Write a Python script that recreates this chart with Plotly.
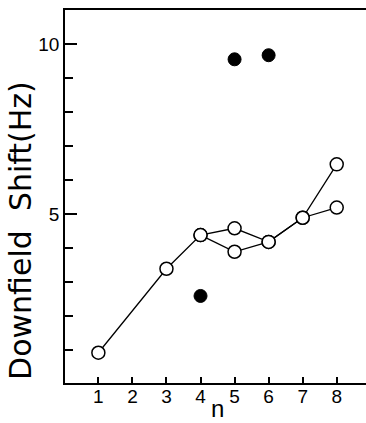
import plotly.graph_objects as go

# Data
n_upper = [1, 3, 4, 5, 6, 7, 8]
shift_upper = [0.92, 3.39, 4.38, 4.58, 4.18, 4.89, 6.46]
n_lower = [4, 5, 6, 7, 8]
shift_lower = [4.38, 3.89, 4.18, 4.89, 5.19]
n_filled = [4, 5, 6]
shift_filled = [2.59, 9.55, 9.67]

x_ticks = [1, 2, 3, 4, 5, 6, 7, 8]
x_ticklabels = ["1", "2", "3", "4", "5", "6", "7", "8"]

FONT = "Liberation Sans, Arial, sans-serif"
NARROW = "Liberation Sans Narrow, Liberation Sans, Arial, sans-serif"
TITLE_FONT = "DejaVu Sans, Liberation Sans, sans-serif"

fig = go.Figure()
open_marker = dict(symbol="circle", size=13, color="white",
                   line=dict(color="black", width=1.5))
for xs, ys in [(n_upper, shift_upper), (n_lower, shift_lower)]:
    fig.add_trace(go.Scatter(x=xs, y=ys, mode="lines+markers",
                             line=dict(color="black", width=1.3),
                             marker=open_marker, showlegend=False,
                             hoverinfo="skip"))
fig.add_trace(go.Scatter(x=n_filled, y=shift_filled, mode="markers",
                         marker=dict(symbol="circle", size=13, color="black",
                                     line=dict(color="black", width=1)),
                         showlegend=False))

fig.update_layout(
    width=366, height=423,
    margin=dict(l=65, r=0, t=10, b=40),
    plot_bgcolor="white", paper_bgcolor="white",
    font=dict(family=FONT, color="black"),
    xaxis=dict(range=[0.02, 8.86], tickmode="array", tickvals=x_ticks,
               ticktext=x_ticklabels, ticks="inside", ticklen=6,
               tickwidth=1.5, tickcolor="black", showline=True,
               linecolor="black", linewidth=1.8, mirror=True,
               showgrid=False, zeroline=False, automargin=False,
               ticklabelstandoff=-5,
               tickfont=dict(size=19, family=NARROW)),
    yaxis=dict(range=[0.03, 11.0], tickmode="linear", tick0=0, dtick=5,
               ticks="inside", ticklen=12, tickwidth=1.5, tickcolor="black",
               minor=dict(dtick=1, tick0=0, ticks="inside", ticklen=8,
                          tickwidth=1.5, tickcolor="black", showgrid=False),
               showline=True, linecolor="black", linewidth=1.8, mirror=False,
               showgrid=False, zeroline=False, automargin=False,
               tickfont=dict(size=19, family=NARROW)),
    annotations=[
        dict(text="Downfield\u00a0\u00a0Shift(Hz)", textangle=-90,
             xref="paper", yref="paper", x=-0.15, y=0.41,
             xanchor="center", yanchor="middle", showarrow=False,
             font=dict(size=30, family=TITLE_FONT, color="black")),
        dict(text="n", xref="paper", yref="paper", x=0.505, y=-0.1072,
             xanchor="center", yanchor="bottom", showarrow=False,
             borderpad=0,
             font=dict(size=24, family=FONT, color="black")),
    ],
)

fig.write_html("out.html")
